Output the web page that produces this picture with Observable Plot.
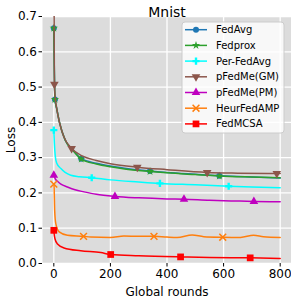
<!DOCTYPE html>
<html><head><meta charset="utf-8">
<script src="https://cdn.jsdelivr.net/npm/d3@7"></script>
<script src="https://cdn.jsdelivr.net/npm/@observablehq/plot@0.6"></script>
<style>
body{margin:0;background:#fff;}
#chart svg{font-family:"DejaVu Sans",sans-serif;overflow:visible}
</style>
</head><body><div id="chart"></div>
<script>
// ---- data ----
const title = "Mnist";
const xLabel = "Global rounds";
const yLabel = "Loss";
const xTicks = [0, 200, 400, 600, 800];
const yTicks = [0, 0.1, 0.2, 0.3, 0.4, 0.5, 0.6, 0.7];

const seriesNames = ["FedAvg", "Fedprox", "Per-FedAvg", "pFedMe(GM)", "pFedMe(PM)", "HeurFedAMP", "FedMCSA"];
const seriesColors = ["#1f77b4", "#2ca02c", "#00ffff", "#8c564b", "#bf00bf", "#ff7f0e", "#ff0000"];
const seriesSymbols = ["circle", "star", "cross", "triangle", "triangle", "times", "square"];
const seriesRotate = [0, 0, 0, 180, 0, 0, 0];
const seriesMarkerR = [3, 2.6, 3, 3.2, 3.2, 3.2, 3.8];

const fedAvgRounds = [0, 4, 10, 20, 40, 68, 97, 150, 200, 250, 340, 400, 500, 585, 700, 800];
const fedAvgLoss   = [0.667, 0.465, 0.44, 0.40, 0.35, 0.321, 0.297, 0.284, 0.276, 0.270, 0.262, 0.258, 0.253, 0.249, 0.245, 0.242];
const fedAvgMarkers = [0, 4, 97, 340, 585];

const fedproxRounds = [0, 4, 10, 20, 40, 68, 97, 150, 200, 250, 340, 400, 500, 585, 700, 800];
const fedproxLoss   = [0.667, 0.465, 0.44, 0.40, 0.35, 0.320, 0.296, 0.282, 0.274, 0.268, 0.261, 0.257, 0.252, 0.248, 0.245, 0.243];
const fedproxMarkers = [0, 4, 97, 340, 585];

const perFedAvgRounds = [0, 2, 5, 10, 25, 40, 60, 90, 134, 200, 300, 375, 500, 618, 700, 800];
const perFedAvgLoss   = [0.378, 0.34, 0.305, 0.285, 0.269, 0.258, 0.250, 0.246, 0.243, 0.237, 0.231, 0.227, 0.223, 0.219, 0.217, 0.215];
const perFedAvgMarkers = [0, 134, 375, 618];

const pFedMeGMRounds = [0, 2, 5, 10, 20, 35, 63, 100, 150, 200, 295, 400, 542, 650, 788, 800];
const pFedMeGMLoss   = [0.95, 0.508, 0.47, 0.44, 0.40, 0.36, 0.326, 0.305, 0.292, 0.283, 0.273, 0.266, 0.258, 0.256, 0.255, 0.255];
const pFedMeGMMarkers = [2, 63, 295, 542, 788];

const pFedMePMRounds = [0, 5, 13, 25, 48, 75, 107, 150, 216, 300, 400, 460, 550, 650, 707, 800];
const pFedMePMLoss   = [0.25, 0.24, 0.233, 0.225, 0.217, 0.209, 0.203, 0.196, 0.19, 0.186, 0.183, 0.182, 0.179, 0.177, 0.176, 0.175];
const pFedMePMMarkers = [0, 216, 460, 707];

const heurRounds = [0, 1, 3, 7, 19, 48, 105, 130, 200, 248, 300, 354, 400, 436, 489, 530, 597, 660, 706, 741, 800];
const heurLoss   = [0.225, 0.217, 0.151, 0.113, 0.0895, 0.080, 0.077, 0.075, 0.0737, 0.078, 0.077, 0.077, 0.075, 0.074, 0.081, 0.076, 0.0745, 0.074, 0.080, 0.076, 0.074];
const heurMarkers = [0, 105, 354, 597];

const fedMCSARounds = [0, 1, 4, 13, 36, 95, 166, 201, 300, 448, 550, 694, 800];
const fedMCSALoss   = [0.094, 0.085, 0.07, 0.055, 0.044, 0.036, 0.031, 0.0255, 0.022, 0.0187, 0.017, 0.016, 0.0145];
const fedMCSAMarkers = [0, 201, 448, 694];

const allRounds = [fedAvgRounds, fedproxRounds, perFedAvgRounds, pFedMeGMRounds, pFedMePMRounds, heurRounds, fedMCSARounds];
const allLoss = [fedAvgLoss, fedproxLoss, perFedAvgLoss, pFedMeGMLoss, pFedMePMLoss, heurLoss, fedMCSALoss];
const allMarkers = [fedAvgMarkers, fedproxMarkers, perFedAvgMarkers, pFedMeGMMarkers, pFedMePMMarkers, heurMarkers, fedMCSAMarkers];

// ---- build marks ----
const seriesMarks = [];
seriesNames.forEach((name, i) => {
  const rows = allRounds[i].map((r, j) => ({name, round: r, loss: allLoss[i][j]}));
  const pts = rows.filter(d => allMarkers[i].includes(d.round));
  seriesMarks.push(Plot.line(rows, {x: "round", y: "loss", stroke: seriesColors[i], strokeWidth: 1.5, curve: "monotone-x", clip: true}));
  const sym = seriesSymbols[i];
  if (sym === "times") {
    seriesMarks.push(Plot.dot(pts, {x: "round", y: "loss", symbol: sym, r: seriesMarkerR[i], stroke: seriesColors[i], strokeWidth: 1.5, fill: "none", clip: true}));
  } else {
    seriesMarks.push(Plot.dot(pts, {x: "round", y: "loss", symbol: sym, r: seriesMarkerR[i], rotate: seriesRotate[i], fill: seriesColors[i], stroke: "none", clip: true}));
  }
});

const W = 291, H = 297;
const mL = 42, mR = 0, mT = 16, mB = 34;

const chart = Plot.plot({
  width: W, height: H,
  marginLeft: mL, marginRight: mR, marginTop: mT, marginBottom: mB,
  style: {fontFamily: "DejaVu Sans, sans-serif", fontSize: "12px", color: "#000", background: "#fff"},
  x: {domain: [-40, 840], label: xLabel},
  y: {domain: [0, 0.7], label: yLabel},
  marks: [
    Plot.frame({fill: "#dcdcdc", stroke: "none"}),
    Plot.gridX(xTicks, {stroke: "#fff", strokeOpacity: 1, strokeWidth: 1.3}),
    Plot.gridY(yTicks, {stroke: "#fff", strokeOpacity: 1, strokeWidth: 1.3}),
    ...seriesMarks,
    Plot.axisX(xTicks, {tickSize: 3.5, tickPadding: 2, tickFormat: d3.format("d"), label: xLabel, labelAnchor: "center", labelArrow: "none", labelOffset: 32, fontSize: 12}),
    Plot.axisY(yTicks, {tickSize: 3.5, tickPadding: 2, tickFormat: d3.format(".1f"), label: yLabel, labelAnchor: "center", labelArrow: "none", labelOffset: 36, fontSize: 12}),
    Plot.text([title], {frameAnchor: "top", dy: -9, fontSize: 14, fill: "#000"})
  ]
});

// ---- legend ----
const svg = d3.select(chart);
const lg = svg.append("g").attr("transform", "translate(182,22)").attr("text-anchor", "start");
lg.append("rect").attr("width", 102).attr("height", 111).attr("rx", 3)
  .attr("fill", "#fff").attr("fill-opacity", 0.8).attr("stroke", "#cccccc").attr("stroke-width", 1);
const symMap = {circle: d3.symbolCircle, star: d3.symbolStar, cross: d3.symbolCross, triangle: d3.symbolTriangle, times: d3.symbolTimes, square: d3.symbolSquare};
seriesNames.forEach((name, i) => {
  const y = 7.7 + i * 15.7;
  const g = lg.append("g").attr("transform", `translate(0,${y})`);
  g.append("line").attr("x1", 3).attr("x2", 25).attr("y1", 0).attr("y2", 0)
    .attr("stroke", seriesColors[i]).attr("stroke-width", 1.5);
  const sym = seriesSymbols[i];
  const r = seriesMarkerR[i];
  const p = g.append("path").attr("d", d3.symbol(symMap[sym], r * r * Math.PI)())
    .attr("transform", `translate(14,0) rotate(${seriesRotate[i]})`);
  if (sym === "times") p.attr("fill", "none").attr("stroke", seriesColors[i]).attr("stroke-width", 1.5);
  else p.attr("fill", seriesColors[i]);
  g.append("text").attr("x", 34).attr("y", 0).attr("dy", "0.35em").attr("text-anchor", "start")
    .attr("font-size", 10).attr("fill", "#000").text(name);
});

document.getElementById("chart").appendChild(chart);
</script></body></html>
